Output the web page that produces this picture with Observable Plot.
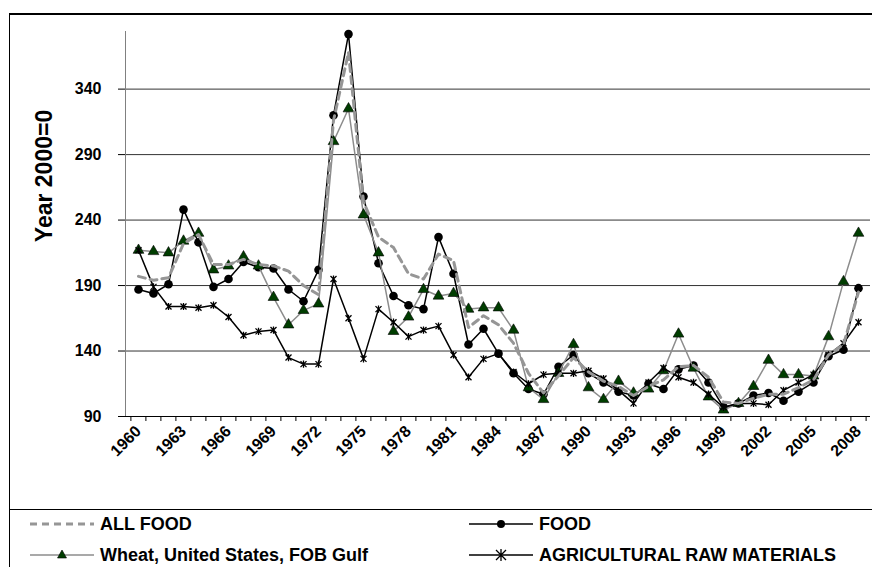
<!DOCTYPE html>
<html><head><meta charset="utf-8">
<script src="https://cdn.jsdelivr.net/npm/d3@7"></script>
<script src="https://cdn.jsdelivr.net/npm/@observablehq/plot@0.6"></script>
<style>
body{margin:0;background:#fff;font-family:"Liberation Sans",Arial,sans-serif;}
#wrap{position:relative;width:872px;height:567px;overflow:hidden;background:#fff}
#frame{position:absolute;left:9px;top:13px;width:900px;height:600px;border-left:1px solid #000;border-top:2px solid #000;}
#legline{position:absolute;left:9px;top:509px;width:900px;border-top:1px solid #000}
#ytitle{position:absolute;left:44px;top:176px;transform:translate(-50%,-50%) rotate(-90deg);font-weight:bold;font-size:23px;white-space:nowrap;line-height:1}
.leg{position:absolute;font-weight:bold;font-size:18px;white-space:nowrap;line-height:1;display:flex;align-items:center}
.leg svg{margin-right:4px}
#plotbox{position:absolute;left:0;top:0}
</style></head>
<body><div id="wrap"><div id="frame"></div><div id="legline"></div><div id="plotbox"></div><div id="ytitle">Year 2000=0</div></div>
<script>
const years = [1960,1961,1962,1963,1964,1965,1966,1967,1968,1969,
  1970,1971,1972,1973,1974,1975,1976,1977,1978,1979,
  1980,1981,1982,1983,1984,1985,1986,1987,1988,1989,
  1990,1991,1992,1993,1994,1995,1996,1997,1998,1999,
  2000,2001,2002,2003,2004,2005,2006,2007,2008];
const labelYears = [1960,1963,1966,1969,1972,1975,1978,1981,1984,1987,1990,1993,1996,1999,2002,2005,2008];
const yTicks = [90,140,190,240,290,340];

const allFood = [197,194,196,222,229,206,206,210,206,205,
  201,190,183,316,368,254,227,219,199,195,
  214,209,158,167,160,146,123,108,121,135,
  124,117,113,106,113,118,128,129,120,101,
  100,104,107,107,112,118,137,145,185];
const food = [187,184,191,248,223,189,195,208,204,203,
  187,178,202,320,382,258,207,182,175,172,
  227,199,145,157,138,123,111,107,128,137,
  123,116,109,106,115,111,126,129,116,97,
  100,106,108,102,109,116,136,141,188];
const wheat = [217,216,215,224,230,202,205,212,205,181,
  160,171,176,300,325,244,215,155,166,187,
  182,184,172,173,173,156,112,103,123,145,
  112,103,117,108,111,125,153,127,105,95,
  100,113,133,122,122,121,151,193,230];
const agri = [217,189,174,174,173,175,166,152,155,156,
  135,130,130,195,165,134,172,162,151,156,
  159,137,120,134,138,124,115,122,123,123,
  125,119,110,100,116,127,120,116,107,97,
  100,100,99,110,116,122,137,146,162];

const rows = arr => years.map((yr, i) => ({year: yr, v: arr[i]}));

const star = {draw(ctx, size) {
  const r = Math.sqrt(size / Math.PI);
  ctx.moveTo(-r, -r); ctx.lineTo(r, r);
  ctx.moveTo(r, -r); ctx.lineTo(-r, r);
  ctx.moveTo(0, -r * 1.2); ctx.lineTo(0, r * 1.2);
}};

const half = 745 / 49 / 2;
const font = "Liberation Sans, Arial, sans-serif";

const chart = Plot.plot({
  width: 872, height: 510,
  marginTop: 31, marginRight: 2, marginBottom: 94, marginLeft: 125,
  style: {fontFamily: font, background: "transparent", overflow: "visible", color: "#000"},
  x: {type: "point", domain: years, padding: 0.5},
  y: {domain: [90, 384]},
  marks: [
    Plot.gridY(yTicks.slice(1), {stroke: "#333", strokeOpacity: 1}),
    Plot.frame({anchor: "left", stroke: "#808080"}),
    Plot.axisY({ticks: yTicks, tickSize: 7, tickPadding: 17, fontSize: 16, fontWeight: "bold", label: null}),
    Plot.ruleY([90], {stroke: "#000"}),
    Plot.axisX({ticks: years, tickSize: 5, tickFormat: () => "", dx: -half, label: null}),
    Plot.axisX({ticks: [2008], tickSize: 5, tickFormat: () => "", dx: half, label: null}),
    Plot.axisX({ticks: labelYears, tickSize: 0, tickRotate: -45, tickPadding: 12, fontSize: 16, fontWeight: "bold", tickFormat: d => String(d), label: null}),
    Plot.line(rows(food), {x: "year", y: "v", stroke: "#000", strokeWidth: 1.5}),
    Plot.dot(rows(food), {x: "year", y: "v", r: 4.3, fill: "#000", symbol: "circle"}),
    Plot.line(rows(wheat), {x: "year", y: "v", stroke: "#8c8c8c", strokeWidth: 1.5}),
    Plot.dot(rows(wheat), {x: "year", y: "v", r: 4, fill: "#003d00", stroke: "#000", strokeWidth: 0.6, symbol: "triangle"}),
    Plot.line(rows(agri), {x: "year", y: "v", stroke: "#000", strokeWidth: 1.5}),
    Plot.dot(rows(agri), {x: "year", y: "v", r: 3, stroke: "#000", strokeWidth: 1.3, symbol: star}),
    Plot.line(rows(allFood), {x: "year", y: "v", stroke: "#969696", strokeWidth: 3, strokeDasharray: "7,5"})
  ]
});
document.getElementById("plotbox").appendChild(chart);

// legend
const legendItems = [
  {name: "ALL FOOD", x: 30, y: 524, kind: "dash"},
  {name: "FOOD", x: 469, y: 524, kind: "circle"},
  {name: "Wheat, United States, FOB Gulf", x: 30, y: 555, kind: "tri"},
  {name: "AGRICULTURAL RAW MATERIALS", x: 469, y: 555, kind: "star"}
];
const wrap = document.getElementById("wrap");
for (const it of legendItems) {
  const div = document.createElement("div");
  div.className = "leg";
  div.style.left = it.x + "px";
  div.style.top = (it.y - 10) + "px";
  div.style.height = "20px";
  let sym = "";
  if (it.kind === "dash") sym = `<line x1="0" y1="10" x2="64" y2="10" stroke="#969696" stroke-width="3" stroke-dasharray="7,5"/>`;
  if (it.kind === "circle") sym = `<line x1="0" y1="10" x2="64" y2="10" stroke="#000" stroke-width="1.5"/><circle cx="32" cy="10" r="4" fill="#000"/>`;
  if (it.kind === "tri") sym = `<line x1="0" y1="10" x2="64" y2="10" stroke="#8c8c8c" stroke-width="1.5"/><path d="M32,5L36.5,13L27.5,13Z" fill="#003d00" stroke="#000" stroke-width="0.6"/>`;
  if (it.kind === "star") sym = `<line x1="0" y1="10" x2="64" y2="10" stroke="#000" stroke-width="1.5"/><path d="M27,5L37,15M37,5L27,15M32,4L32,16" stroke="#000" stroke-width="1.3"/>`;
  div.innerHTML = `<svg width="66" height="20">${sym}</svg><span>${it.name}</span>`;
  wrap.appendChild(div);
}
</script>
</body></html>
